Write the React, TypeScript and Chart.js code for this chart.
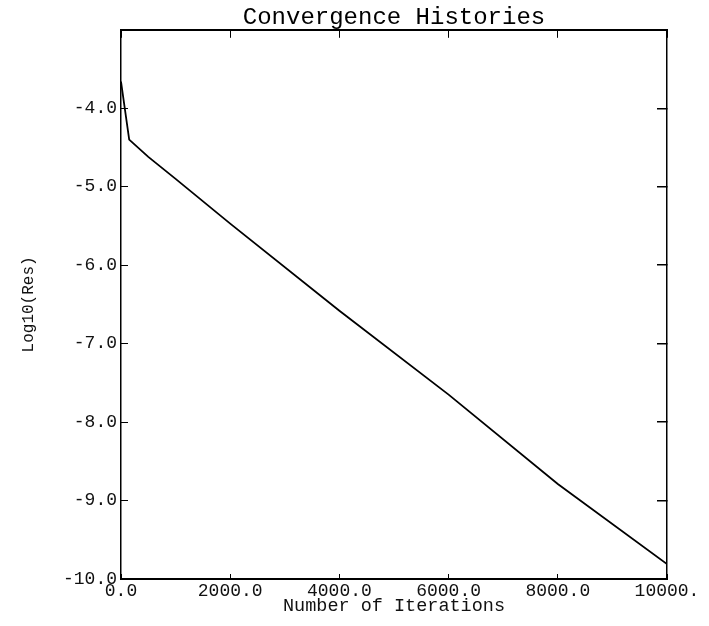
import React, { useEffect, useRef } from "react";
import { Chart, registerables } from "chart.js";

Chart.register(...registerables);

const iterations = [0, 150, 500, 1000, 2000, 4000, 6000, 8000, 10000];
const logResidual = [-3.66, -4.4, -4.62, -4.9, -5.47, -6.58, -7.65, -8.79, -9.81];
const xTickLabels: Record<number, string> = {
  0: "0.0",
  2000: "2000.0",
  4000: "4000.0",
  6000: "6000.0",
  8000: "8000.0",
  10000: "10000.",
};
const yTickValues = [-10, -9, -8, -7, -6, -5, -4];

const MONO = "'Liberation Mono', 'DejaVu Sans Mono', monospace";

export default function App() {
  const ref = useRef<HTMLCanvasElement | null>(null);

  useEffect(() => {
    if (!ref.current) return;
    const chart = new Chart(ref.current, {
      type: "line",
      data: {
        datasets: [
          {
            label: "residual",
            data: iterations.map((x, i) => ({ x, y: logResidual[i] })),
            borderColor: "#000",
            borderWidth: 1.8,
            pointRadius: 0,
            tension: 0,
            fill: false,
          },
        ],
      },
      options: {
        animation: false,
        responsive: false,
        layout: { padding: { left: 0, right: 0, top: 0, bottom: 0 } },
        plugins: {
          legend: { display: false },
          tooltip: { enabled: false },
          title: {
            display: true,
            fullSize: false,
            text: "Convergence Histories",
            color: "#000",
            font: { family: MONO, size: 24, weight: "normal" },
            padding: { top: 3, bottom: -2 },
          },
        },
        scales: {
          x: {
            type: "linear",
            position: "bottom",
            min: 0,
            max: 10000,
            afterFit: (s: any) => {
              s.height = 47;
            },
            ticks: {
              stepSize: 2000,
              color: "#111",
              font: { family: MONO, size: 18 },
              padding: 6,
              maxRotation: 0,
              autoSkip: false,
              callback: (v: any) => xTickLabels[Number(v)] ?? "",
            },
            grid: {
              drawOnChartArea: false,
              drawTicks: true,
              tickLength: -5,
              color: "#000",
              lineWidth: 1,
            },
            border: { display: true, color: "#000", width: 2 },
            title: {
              display: true,
              text: "Number of Iterations",
              color: "#111",
              font: { family: MONO, size: 18.5 },
              padding: { top: 0, bottom: 9 },
            },
          },
          x2: {
            type: "linear",
            position: "top",
            min: 0,
            max: 10000,
            afterFit: (s: any) => {
              s.height = 0;
            },
            ticks: { stepSize: 2000, display: false },
            grid: {
              drawOnChartArea: false,
              drawTicks: true,
              tickLength: -8,
              color: "#000",
              lineWidth: 1,
            },
            border: { display: true, color: "#000", width: 2 },
          },
          y: {
            type: "linear",
            position: "left",
            min: -10,
            max: -3,
            afterFit: (s: any) => {
              s.width = 121;
            },
            ticks: {
              stepSize: 1,
              color: "#111",
              font: { family: MONO, size: 18 },
              padding: 11,
              autoSkip: false,
              callback: (v: any) =>
                yTickValues.includes(Number(v)) ? Number(v).toFixed(1) : "",
            },
            grid: {
              drawOnChartArea: false,
              drawTicks: true,
              tickLength: -7,
              color: "#000",
              lineWidth: 1,
            },
            border: { display: true, color: "#000", width: 1.5 },
            title: {
              display: true,
              text: "Log10(Res)",
              color: "#111",
              font: { family: MONO, size: 16 },
              padding: { top: 19, bottom: 0 },
            },
          },
          y2: {
            type: "linear",
            position: "right",
            min: -10,
            max: -3,
            afterFit: (s: any) => {
              s.width = 42;
            },
            ticks: { stepSize: 1, display: false },
            grid: {
              drawOnChartArea: false,
              drawTicks: true,
              tickLength: -10,
              color: "#000",
              lineWidth: 1.5,
            },
            border: { display: true, color: "#000", width: 1.5 },
          },
        },
      },
    } as any);
    return () => chart.destroy();
  }, []);

  return (
    <div
      style={{
        position: "absolute",
        left: 0,
        top: 0,
        width: 709,
        height: 626,
        background: "#fff",
      }}
    >
      <canvas ref={ref} width={709} height={626} style={{ display: "block" }} />
    </div>
  );
}
